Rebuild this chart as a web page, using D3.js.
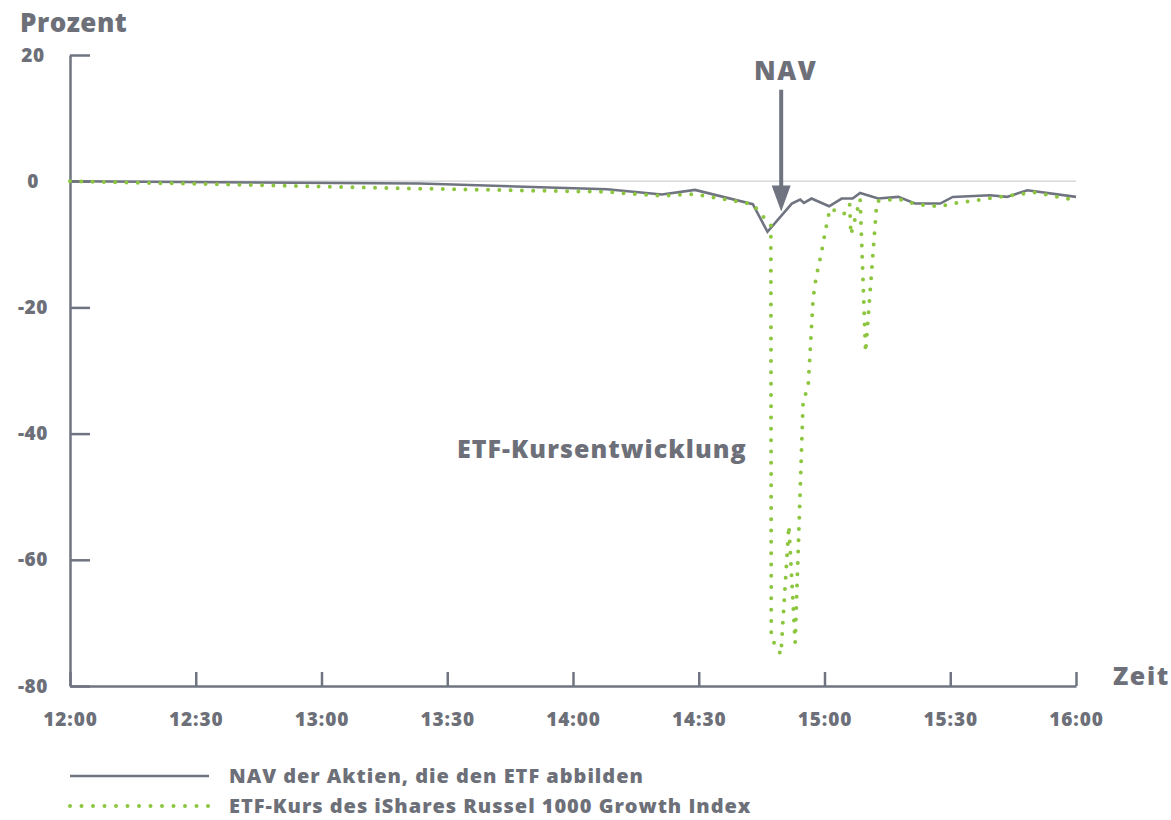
<!DOCTYPE html>
<html>
<head>
<meta charset="utf-8">
<script src="https://cdn.jsdelivr.net/npm/d3@7"></script>
<style>
  html, body { margin: 0; padding: 0; background: #ffffff; }
  svg { display: block; }
  text { font-family: "Open Sans", Lato, sans-serif; font-weight: 800; fill: #6d7079; }
</style>
</head>
<body>
<svg id="chart" width="1171" height="820"></svg>
<script>
// ---- data ----
const yTicks = [20, 0, -20, -40, -60, -80];
const xTickLabels = ["12:00", "12:30", "13:00", "13:30", "14:00", "14:30", "15:00", "15:30", "16:00"];

const navTimes = ["12:00:00","13:23:30","14:08:06","14:21:12","14:29:06","14:42:54","14:46:24","14:52:12","14:54:12","14:55:06","14:56:54","15:01:06","15:04:06","15:06:42","15:08:30","15:12:48","15:17:36","15:21:36","15:27:36","15:30:36","15:39:30","15:43:30","15:48:24","16:00:00"];
const navValues = [0,-0.37,-1.27,-2.11,-1.38,-3.65,-8.02,-3.54,-2.90,-3.44,-2.75,-3.97,-2.75,-2.75,-1.86,-2.75,-2.49,-3.54,-3.54,-2.49,-2.22,-2.49,-1.43,-2.49];

const etfTimes = ["12:00:00","13:21:48","14:08:06","14:21:12","14:28:54","14:42:54","14:45:06","14:47:12","14:47:18","14:49:36","14:51:30","14:53:00","14:54:54","14:56:06","14:57:18","14:58:00","14:59:12","15:00:12","15:01:18","15:04:36","15:06:00","15:06:18","15:08:30","15:09:48","15:12:30","15:15:12","15:17:48","15:22:00","15:27:42","15:29:54","15:46:36","15:49:42","16:00:00"];
const etfValues = [0,-1.16,-1.70,-2.33,-2.03,-3.65,-5.40,-6.98,-72.4,-75.0,-54.6,-73.1,-34.9,-32.5,-18.5,-15.2,-11.6,-7.9,-4.33,-5.24,-3.65,-8.49,-2.86,-27.1,-3.17,-2.97,-2.86,-3.70,-4.02,-3.60,-2.06,-1.75,-3.0];

const seriesNames = ["NAV der Aktien, die den ETF abbilden", "ETF-Kurs des iShares Russel 1000 Growth Index"];
const arrowTime = "14:49:40";
const arrowFrom = 14.5;
const arrowTo = -4.8;

// ---- setup ----
const parseT = d3.timeParse("%H:%M:%S");
const parseHM = d3.timeParse("%H:%M");
const svg = d3.select("#chart");
const gray = "#6f7480";
const green = "#8cc63f";
const fontFam = "'Open Sans', Lato, sans-serif";

const x = d3.scaleTime()
  .domain([parseHM("12:00"), parseHM("16:00")])
  .range([70, 1076]);
const y = d3.scaleLinear().domain([-80, 20]).range([686, 55]);

// zero gridline
svg.append("line")
  .attr("x1", x.range()[0]).attr("x2", x.range()[1])
  .attr("y1", y(0)).attr("y2", y(0))
  .attr("stroke", "#cfcfcf").attr("stroke-width", 1.2);

// y axis
const yAxis = svg.append("g")
  .attr("transform", `translate(${x.range()[0]},0)`)
  .call(d3.axisLeft(y).tickValues(yTicks).tickFormat(d => String(d))
    .tickSize(-20).tickSizeOuter(0).tickPadding(37));
yAxis.select(".domain").attr("stroke", gray).attr("stroke-width", 2.5);
yAxis.selectAll(".tick line").attr("stroke", gray).attr("stroke-width", 2.5);
yAxis.selectAll(".tick text")
  .attr("text-anchor", "middle")
  .style("font-size", "19px").style("font-family", fontFam).style("font-weight", 800)
  .style("letter-spacing", "0.6px")
  .attr("fill", "#6d7079");

// x axis
const xAxis = svg.append("g")
  .attr("transform", `translate(0,${y(-80)})`)
  .call(d3.axisBottom(x)
    .tickValues(xTickLabels.map(parseHM))
    .tickFormat(d3.timeFormat("%H:%M"))
    .tickSize(-14).tickSizeOuter(0).tickPadding(27));
xAxis.select(".domain").attr("stroke", gray).attr("stroke-width", 2.5);
xAxis.selectAll(".tick line").attr("stroke", gray).attr("stroke-width", 2.5);
xAxis.selectAll(".tick text")
  .style("font-size", "19px").style("font-family", fontFam).style("font-weight", 800)
  .style("letter-spacing", "0.9px")
  .attr("fill", "#6d7079");

// lines
const line = d3.line().x(d => x(d.t)).y(d => y(d.v));
const navData = navTimes.map((t, i) => ({ t: parseT(t), v: navValues[i] }));
const etfData = etfTimes.map((t, i) => ({ t: parseT(t), v: etfValues[i] }));

svg.append("path").datum(navData)
  .attr("d", line)
  .attr("fill", "none").attr("stroke", gray).attr("stroke-width", 2.6)
  .attr("stroke-linejoin", "miter");

svg.append("path").datum(etfData)
  .attr("d", line)
  .attr("fill", "none").attr("stroke", green).attr("stroke-width", 4)
  .attr("stroke-linecap", "round").attr("stroke-dasharray", "0 11.3");

// arrow annotation
const axPos = x(parseT(arrowTime));
const tipY = y(arrowTo);
const headH = 26, headW = 9.5;
svg.append("line")
  .attr("x1", axPos).attr("x2", axPos)
  .attr("y1", y(arrowFrom)).attr("y2", tipY - headH + 2)
  .attr("stroke", gray).attr("stroke-width", 4);
svg.append("path")
  .attr("d", `M${axPos - headW},${tipY - headH} L${axPos + headW},${tipY - headH} L${axPos},${tipY} Z`)
  .attr("fill", gray);

// texts
svg.append("text").attr("x", 20).attr("y", 32).style("font-size", "26px").style("letter-spacing", "0.5px").text("Prozent");
svg.append("text").attr("x", 1113).attr("y", 685).style("font-size", "25px").style("letter-spacing", "1.6px").text("Zeit");
svg.append("text").attr("x", 754).attr("y", 80).style("font-size", "26px").style("letter-spacing", "1.6px").text("NAV");
svg.append("text").attr("x", 457).attr("y", 458).style("font-size", "25px").style("letter-spacing", "1.05px").text("ETF-Kursentwicklung");

// legend
const legend = svg.append("g");
legend.append("line").attr("x1", 70).attr("x2", 209).attr("y1", 776).attr("y2", 776)
  .attr("stroke", gray).attr("stroke-width", 2.6);
legend.append("line").attr("x1", 70).attr("x2", 209).attr("y1", 806).attr("y2", 806)
  .attr("stroke", green).attr("stroke-width", 4)
  .attr("stroke-linecap", "round").attr("stroke-dasharray", "0 11.5");
legend.append("text").attr("x", 229).attr("y", 783).style("font-size", "20px").style("letter-spacing", "0.97px").text(seriesNames[0]);
legend.append("text").attr("x", 229).attr("y", 813).style("font-size", "20px").style("letter-spacing", "0.97px").text(seriesNames[1]);
</script>
</body>
</html>
